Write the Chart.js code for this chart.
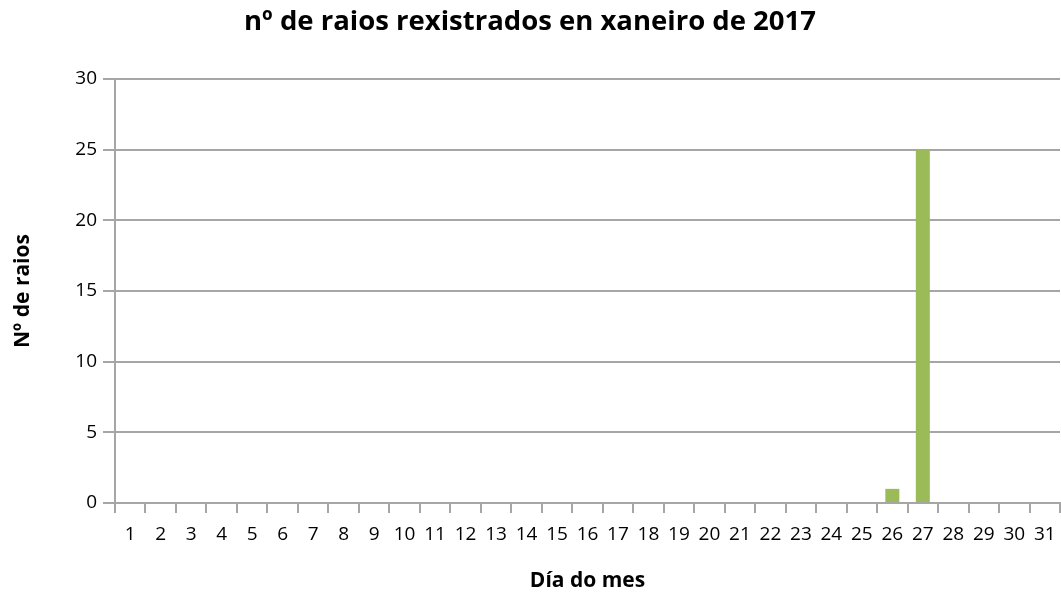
<!DOCTYPE html>
<html>
<head>
<meta charset="utf-8">
<script src="https://cdn.jsdelivr.net/npm/chart.js@4.4.1/dist/chart.umd.min.js"></script>
<style>
  html, body { margin: 0; padding: 0; background: #fff; }
  #wrap { width: 1061px; height: 594px; }
</style>
</head>
<body>
<div id="wrap"><canvas id="chart"></canvas></div>
<script>
// days of January 2017
const days = [
  "1", "2", "3", "4", "5", "6", "7", "8", "9", "10",
  "11", "12", "13", "14", "15", "16", "17", "18", "19", "20",
  "21", "22", "23", "24", "25", "26", "27", "28", "29", "30", "31",
];
// lightning strikes per day
const raios = [
  0, 0, 0, 0, 0, 0, 0, 0, 0, 0,
  0, 0, 0, 0, 0, 0, 0, 0, 0, 0,
  0, 0, 0, 0, 0, 1, 25, 0, 0, 0, 0,
];

const fontFamily = "'Open Sans', 'DejaVu Sans', sans-serif";
const gridColor = "#a6a6a6";

new Chart(document.getElementById("chart"), {
  type: "bar",
  data: {
    labels: days,
    datasets: [
      {
        label: "Nº de raios",
        data: raios,
        backgroundColor: "#9bbb59",
        barPercentage: 0.92,
        categoryPercentage: 0.5,
      },
    ],
  },
  options: {
    responsive: true,
    maintainAspectRatio: false,
    animation: false,
    layout: { padding: { top: 4, right: 1, left: 0, bottom: 0 } },
    plugins: {
      legend: { display: false },
      tooltip: { enabled: false },
      title: {
        display: true,
        text: "nº de raios rexistrados en xaneiro de 2017",
        color: "#000",
        font: { family: fontFamily, size: 27.5, weight: "bold" },
        padding: { top: 2, bottom: 40 },
      },
    },
    scales: {
      x: {
        // let the plot run to the right edge, like the original
        afterFit: (axis) => { axis.paddingRight = 0; },
        grid: {
          offset: true,
          drawOnChartArea: false,
          color: gridColor,
          lineWidth: 2,
          tickLength: 10,
        },
        border: { color: gridColor, width: 2 },
        ticks: {
          color: "#000",
          autoSkip: false,
          maxRotation: 0,
          padding: 10,
          font: { family: fontFamily, size: 19 },
        },
        title: {
          display: true,
          text: "Día do mes",
          color: "#000",
          font: { family: fontFamily, size: 21, weight: "bold" },
          padding: { top: 13, bottom: 0 },
        },
      },
      y: {
        min: 0,
        max: 30,
        afterFit: (axis) => { axis.width = 115; },
        grid: {
          color: gridColor,
          lineWidth: 2,
          tickLength: 12,
        },
        border: { color: gridColor, width: 2 },
        ticks: {
          stepSize: 5,
          color: "#000",
          padding: 6,
          font: { family: fontFamily, size: 19 },
        },
        title: {
          display: true,
          text: "Nº de raios",
          color: "#000",
          font: { family: fontFamily, size: 21, weight: "bold" },
          padding: { top: 10, bottom: 0 },
        },
      },
    },
  },
});
</script>
</body>
</html>
